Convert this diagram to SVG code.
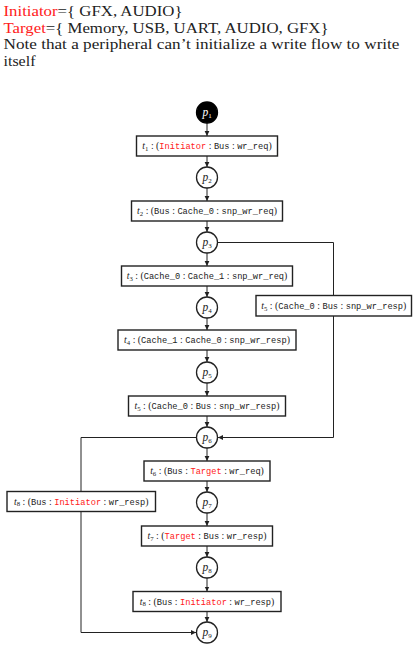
<svg xmlns="http://www.w3.org/2000/svg" width="416" height="649" viewBox="0 0 416 649">
<style>
.hdr{font-family:"Liberation Serif",serif;font-size:15px;fill:#222}
.red{fill:#ff2020}
.box{fill:#fff;stroke:#222;stroke-width:1.4}
.pl{fill:#fff;stroke:#222;stroke-width:1.3}
.pf{fill:#000;stroke:#000;stroke-width:1.3}
.lbl{font-family:"Liberation Serif",serif;font-size:9.8px;fill:#222;text-anchor:middle}
.tt{font-family:"Liberation Mono",monospace;font-size:8.7px}
.it{font-style:italic}
.sub{font-size:6.8px}
.pt{font-family:"Liberation Serif",serif;font-size:11.5px;font-style:italic;fill:#222;text-anchor:middle}
.psub{font-size:7px;font-style:normal}
.ptw{fill:#fff}
.conn{fill:none;stroke:#222;stroke-width:1}
</style>
<defs>
<marker id="arr" markerWidth="6" markerHeight="6" refX="5" refY="3" orient="auto" markerUnits="userSpaceOnUse"><path d="M0,0.6 L5,3 L0,5.4 z" fill="#222"/></marker>
</defs>
<g id="header">
<text class="hdr" x="3.5" y="16" textLength="179" lengthAdjust="spacingAndGlyphs"><tspan class="red">Initiator</tspan>={ GFX, AUDIO}</text>
<text class="hdr" x="3.5" y="32.5" textLength="325" lengthAdjust="spacingAndGlyphs"><tspan class="red">Target</tspan>={ Memory, USB, UART, AUDIO, GFX}</text>
<text class="hdr" x="3.5" y="49" textLength="396" lengthAdjust="spacingAndGlyphs">Note that a peripheral can’t initialize a write flow to write</text>
<text class="hdr" x="3.5" y="65.5" textLength="32" lengthAdjust="spacingAndGlyphs">itself</text>
</g>
<g id="connectors">
<path class="conn" marker-end="url(#arr)" d="M207 123 V136"/>
<path class="conn" marker-end="url(#arr)" d="M207 156 V167"/>
<path class="conn" marker-end="url(#arr)" d="M207 188 V201"/>
<path class="conn" marker-end="url(#arr)" d="M207 221 V232"/>
<path class="conn" marker-end="url(#arr)" d="M207 253 V266"/>
<path class="conn" marker-end="url(#arr)" d="M207 286 V297"/>
<path class="conn" marker-end="url(#arr)" d="M207 318 V330"/>
<path class="conn" marker-end="url(#arr)" d="M207 350 V362"/>
<path class="conn" marker-end="url(#arr)" d="M207 383 V396"/>
<path class="conn" marker-end="url(#arr)" d="M207 416 V427"/>
<path class="conn" marker-end="url(#arr)" d="M207 448 V461"/>
<path class="conn" marker-end="url(#arr)" d="M207 481 V492"/>
<path class="conn" marker-end="url(#arr)" d="M207 513 V526"/>
<path class="conn" marker-end="url(#arr)" d="M207 546 V557"/>
<path class="conn" marker-end="url(#arr)" d="M207 578 V591.5"/>
<path class="conn" marker-end="url(#arr)" d="M207 611.5 V622"/>
<path class="conn" marker-end="url(#arr)" d="M217.5 242.5 H333.5 V437.5 H218"/>
<path class="conn" marker-end="url(#arr)" d="M196.5 437.5 H81 V632.5 H196"/>
</g>
<g id="p1"><circle class="pf" cx="207" cy="112.5" r="10.5"/><text class="pt ptw" x="207" y="115.5">p<tspan class="psub" dy="2">1</tspan></text></g>
<g id="p2"><circle class="pl" cx="207" cy="177.5" r="10.5"/><text class="pt" x="207" y="180.5">p<tspan class="psub" dy="2">2</tspan></text></g>
<g id="p3"><circle class="pl" cx="207" cy="242.5" r="10.5"/><text class="pt" x="207" y="245.5">p<tspan class="psub" dy="2">3</tspan></text></g>
<g id="p4"><circle class="pl" cx="207" cy="307.5" r="10.5"/><text class="pt" x="207" y="310.5">p<tspan class="psub" dy="2">4</tspan></text></g>
<g id="p5"><circle class="pl" cx="207" cy="372.5" r="10.5"/><text class="pt" x="207" y="375.5">p<tspan class="psub" dy="2">5</tspan></text></g>
<g id="p6"><circle class="pl" cx="207" cy="437.5" r="10.5"/><text class="pt" x="207" y="440.5">p<tspan class="psub" dy="2">6</tspan></text></g>
<g id="p7"><circle class="pl" cx="207" cy="502.5" r="10.5"/><text class="pt" x="207" y="505.5">p<tspan class="psub" dy="2">7</tspan></text></g>
<g id="p8"><circle class="pl" cx="207" cy="567.5" r="10.5"/><text class="pt" x="207" y="570.5">p<tspan class="psub" dy="2">8</tspan></text></g>
<g id="p9"><circle class="pl" cx="207" cy="632.5" r="10.5"/><text class="pt" x="207" y="635.5">p<tspan class="psub" dy="2">9</tspan></text></g>
<g id="t1"><rect class="box" x="136.5" y="136" width="141" height="20"/><text class="lbl" x="207" y="149.3"><tspan class="it">t</tspan><tspan class="sub" dy="1.5">1</tspan><tspan dy="-1.5"> : (</tspan><tspan class="tt red">Initiator</tspan> : <tspan class="tt">Bus</tspan> : <tspan class="tt">wr_req</tspan>)</text></g>
<g id="t2"><rect class="box" x="131.5" y="201" width="151" height="20"/><text class="lbl" x="207" y="214.3"><tspan class="it">t</tspan><tspan class="sub" dy="1.5">2</tspan><tspan dy="-1.5"> : (</tspan><tspan class="tt">Bus</tspan> : <tspan class="tt">Cache_0</tspan> : <tspan class="tt">snp_wr_req</tspan>)</text></g>
<g id="t3"><rect class="box" x="121.5" y="266" width="171" height="20"/><text class="lbl" x="207" y="279.3"><tspan class="it">t</tspan><tspan class="sub" dy="1.5">3</tspan><tspan dy="-1.5"> : (</tspan><tspan class="tt">Cache_0</tspan> : <tspan class="tt">Cache_1</tspan> : <tspan class="tt">snp_wr_req</tspan>)</text></g>
<g id="t4"><rect class="box" x="118" y="330" width="178" height="20"/><text class="lbl" x="207" y="343.3"><tspan class="it">t</tspan><tspan class="sub" dy="1.5">4</tspan><tspan dy="-1.5"> : (</tspan><tspan class="tt">Cache_1</tspan> : <tspan class="tt">Cache_0</tspan> : <tspan class="tt">snp_wr_resp</tspan>)</text></g>
<g id="t5"><rect class="box" x="128.5" y="396" width="157" height="20"/><text class="lbl" x="207" y="409.3"><tspan class="it">t</tspan><tspan class="sub" dy="1.5">5</tspan><tspan dy="-1.5"> : (</tspan><tspan class="tt">Cache_0</tspan> : <tspan class="tt">Bus</tspan> : <tspan class="tt">snp_wr_resp</tspan>)</text></g>
<g id="t5b"><rect class="box" x="256" y="295.5" width="155.5" height="20.5"/><text class="lbl" x="333.8" y="309"><tspan class="it">t</tspan><tspan class="sub" dy="1.5">5</tspan><tspan dy="-1.5"> : (</tspan><tspan class="tt">Cache_0</tspan> : <tspan class="tt">Bus</tspan> : <tspan class="tt">snp_wr_resp</tspan>)</text></g>
<g id="t6"><rect class="box" x="144" y="461" width="126" height="20"/><text class="lbl" x="207" y="474.3"><tspan class="it">t</tspan><tspan class="sub" dy="1.5">6</tspan><tspan dy="-1.5"> : (</tspan><tspan class="tt">Bus</tspan> : <tspan class="tt red">Target</tspan> : <tspan class="tt">wr_req</tspan>)</text></g>
<g id="t7"><rect class="box" x="141.5" y="526" width="131" height="20"/><text class="lbl" x="207" y="539.3"><tspan class="it">t</tspan><tspan class="sub" dy="1.5">7</tspan><tspan dy="-1.5"> : (</tspan><tspan class="tt red">Target</tspan> : <tspan class="tt">Bus</tspan> : <tspan class="tt">wr_resp</tspan>)</text></g>
<g id="t8"><rect class="box" x="133" y="591.5" width="148" height="20"/><text class="lbl" x="207" y="604.8"><tspan class="it">t</tspan><tspan class="sub" dy="1.5">8</tspan><tspan dy="-1.5"> : (</tspan><tspan class="tt">Bus</tspan> : <tspan class="tt red">Initiator</tspan> : <tspan class="tt">wr_resp</tspan>)</text></g>
<g id="t8b"><rect class="box" x="7" y="491.5" width="148.5" height="20"/><text class="lbl" x="81.2" y="504.8"><tspan class="it">t</tspan><tspan class="sub" dy="1.5">8</tspan><tspan dy="-1.5"> : (</tspan><tspan class="tt">Bus</tspan> : <tspan class="tt red">Initiator</tspan> : <tspan class="tt">wr_resp</tspan>)</text></g>
</svg>
